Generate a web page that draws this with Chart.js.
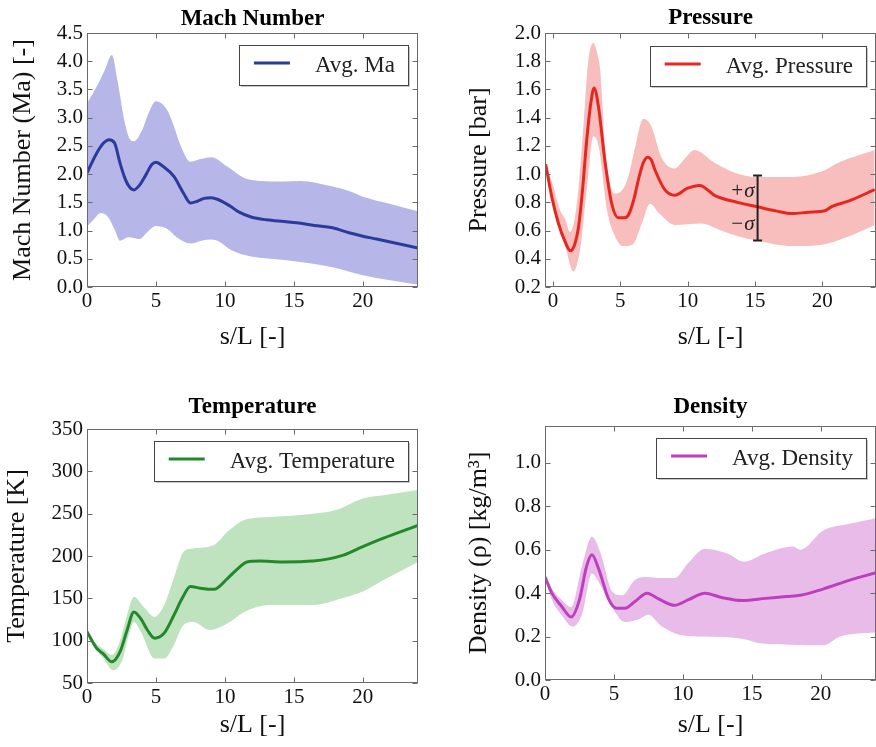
<!DOCTYPE html>
<html><head><meta charset="utf-8">
<script src="https://cdn.jsdelivr.net/npm/chart.js@4.4.1/dist/chart.umd.min.js"></script>
<style>
html,body{margin:0;padding:0;background:#fff;overflow:hidden;width:876px;height:747px;position:relative;}
canvas{position:absolute;}
</style></head><body>
<canvas id="cMach"></canvas>
<canvas id="cPres"></canvas>
<canvas id="cTemp"></canvas>
<canvas id="cDens"></canvas>
<script>
// ---------- DATA ----------
const xTicks = [0, 5, 10, 15, 20];

const machTicks = [0, 0.5, 1, 1.5, 2, 2.5, 3, 3.5, 4, 4.5];
const machMeanX = [0, 0.7, 1.2, 1.6, 2.0, 2.4, 2.7, 3.0, 3.4, 3.8, 4.3, 4.7, 5.0, 5.5, 6.3, 7.0, 7.5, 8.0, 8.5, 9.0, 9.5, 10.4, 11.0, 11.9, 13, 14.3, 15.2, 16.5, 17.8, 19, 20, 21, 22.5, 24];
const machMean  = [2.02, 2.37, 2.55, 2.61, 2.55, 2.19, 1.96, 1.80, 1.72, 1.80, 2.00, 2.17, 2.21, 2.14, 1.96, 1.66, 1.49, 1.52, 1.57, 1.58, 1.55, 1.43, 1.33, 1.24, 1.19, 1.16, 1.14, 1.09, 1.05, 0.96, 0.90, 0.85, 0.77, 0.69];
const machUpX = [0, 0.7, 1.3, 1.8, 2.2, 2.7, 3.1, 3.4, 4.0, 4.5, 5.0, 5.8, 6.3, 6.8, 7.5, 8.3, 9.0, 10.2, 11.4, 12.5, 14.3, 15.5, 17.8, 19, 20, 22, 24];
const machUp  = [3.25, 3.55, 3.85, 4.11, 3.67, 2.96, 2.62, 2.58, 2.78, 3.10, 3.29, 3.14, 2.85, 2.50, 2.22, 2.27, 2.30, 2.13, 1.93, 1.88, 1.87, 1.88, 1.78, 1.70, 1.60, 1.47, 1.34];
const machLowX = [0, 0.5, 1.0, 1.5, 2.0, 2.4, 3.0, 3.4, 3.8, 4.4, 5.0, 5.8, 6.5, 7.5, 8.3, 9.0, 9.6, 10.4, 11.9, 14.3, 15.2, 17.8, 20, 22, 24];
const machLow  = [1.07, 1.20, 1.31, 1.25, 1.02, 0.82, 0.88, 0.87, 0.85, 0.98, 1.08, 1.03, 0.88, 0.77, 0.82, 0.84, 0.80, 0.66, 0.54, 0.48, 0.45, 0.35, 0.21, 0.12, 0.04];

const presTicks = [0.2, 0.4, 0.6, 0.8, 1.0, 1.2, 1.4, 1.6, 1.8, 2.0];
const presMeanX = [-0.55, -0.1, 0.4, 0.9, 1.27, 1.6, 1.9, 2.2, 2.5, 2.8, 3.05, 3.37, 3.87, 4.36, 4.85, 5.3, 5.6, 6.0, 6.34, 6.7, 7.02, 7.3, 7.57, 8.3, 9.05, 10, 10.9, 12, 13.7, 15.1, 16.5, 17.8, 19, 20.2, 20.7, 22, 23.9];
const presMean  = [1.07, 0.84, 0.65, 0.52, 0.457, 0.50, 0.63, 0.90, 1.24, 1.50, 1.61, 1.48, 1.08, 0.79, 0.69, 0.69, 0.71, 0.82, 0.96, 1.08, 1.12, 1.10, 1.03, 0.89, 0.85, 0.90, 0.92, 0.85, 0.80, 0.77, 0.74, 0.72, 0.73, 0.74, 0.77, 0.81, 0.89];
const presUpX = [-0.55, 0, 0.5, 0.9, 1.27, 1.6, 1.9, 2.3, 2.6, 3.0, 3.3, 3.5, 3.87, 4.2, 4.6, 5.3, 5.7, 6.1, 6.7, 7.3, 8.05, 9.05, 9.8, 10.5, 12.0, 13.5, 15.1, 17.8, 20, 21.2, 23.9];
const presUp  = [1.07, 0.92, 0.75, 0.68, 0.59, 0.68, 0.91, 1.40, 1.79, 1.93, 1.85, 1.74, 1.19, 0.95, 0.86, 0.91, 1.02, 1.19, 1.39, 1.34, 1.12, 1.04, 1.11, 1.17, 1.08, 1.01, 0.98, 0.98, 1.02, 1.08, 1.17];
const presLowX = [-0.55, 0, 0.5, 0.9, 1.5, 2.0, 2.5, 3.0, 3.4, 4.0, 4.6, 5.2, 5.9, 6.6, 7.2, 7.9, 9.05, 11, 12.5, 13.7, 15.1, 17.8, 20, 22, 23.9];
const presLow  = [1.06, 0.80, 0.60, 0.49, 0.31, 0.46, 0.89, 1.27, 1.19, 0.75, 0.56, 0.49, 0.50, 0.65, 0.79, 0.72, 0.64, 0.65, 0.60, 0.56, 0.53, 0.49, 0.50, 0.56, 0.64];
const sigmaX = 15.2, sigmaMid = 0.77, sigmaLo = 0.53, sigmaHi = 0.99;

const tempTicks = [50, 100, 150, 200, 250, 300, 350];
const tempMeanX = [0, 0.7, 1.2, 1.8, 2.4, 2.9, 3.4, 3.9, 4.4, 4.9, 5.6, 6.3, 6.9, 7.5, 8.2, 9.2, 10.2, 11.0, 11.6, 12.5, 14.2, 16.4, 18.6, 20, 21.5, 24];
const tempMean  = [110.6, 91, 84, 75, 87, 112, 134, 126, 112, 103, 109, 130, 150, 164, 162, 160.6, 173.7, 186, 193, 194, 193, 194, 201, 211, 221, 236];
const tempUpX = [0, 0.7, 1.2, 1.8, 2.4, 2.9, 3.4, 4.1, 4.9, 5.6, 6.3, 7.0, 7.7, 9.2, 10.2, 11.4, 13.3, 16.4, 18, 20, 22, 24];
const tempUp  = [111, 96, 90, 83, 100, 130, 152, 140, 128, 142, 174, 205, 209, 213, 229, 242.5, 246, 250, 254, 268, 273, 278];
const tempLowX = [0, 0.7, 1.2, 1.9, 2.6, 3.0, 3.4, 3.9, 4.9, 5.6, 6.3, 7.0, 7.7, 8.9, 10.2, 11.4, 13.3, 16.4, 18.5, 20, 21.5, 24];
const tempLow  = [110, 90, 79, 65, 79, 105, 122, 110.6, 79, 79, 95, 118.5, 122, 112.6, 120.5, 134, 142, 142, 150, 158, 171.7, 193];

const densTicks = [0, 0.2, 0.4, 0.6, 0.8, 1.0];
const densMeanX = [0, 0.5, 1.2, 1.9, 2.5, 3.0, 3.4, 3.9, 4.6, 5.2, 5.8, 6.5, 7.4, 8.2, 9.4, 10.4, 11.6, 12.8, 14.3, 16, 17.5, 18.5, 20.2, 22.1, 24];
const densMean  = [0.475, 0.40, 0.34, 0.29, 0.37, 0.52, 0.577, 0.51, 0.375, 0.33, 0.33, 0.36, 0.40, 0.375, 0.344, 0.37, 0.40, 0.38, 0.366, 0.376, 0.385, 0.39, 0.42, 0.46, 0.494];
const densUpX = [0, 0.5, 1.2, 1.9, 2.7, 3.4, 4.0, 4.9, 5.6, 6.5, 7.3, 8.4, 9.4, 10.4, 11.6, 13.3, 14.4, 16, 18, 18.5, 20.2, 22.1, 24];
const densUp  = [0.48, 0.42, 0.37, 0.336, 0.53, 0.66, 0.59, 0.405, 0.39, 0.46, 0.475, 0.47, 0.47, 0.54, 0.605, 0.58, 0.545, 0.584, 0.615, 0.60, 0.69, 0.72, 0.745];
const densLowX = [0, 0.5, 1.2, 2.0, 2.7, 3.4, 3.9, 4.9, 5.8, 6.8, 7.5, 8.4, 9.9, 11.4, 14.3, 15.6, 18.5, 20.2, 21.4, 24];
const densLow  = [0.47, 0.37, 0.30, 0.245, 0.305, 0.49, 0.45, 0.33, 0.267, 0.28, 0.30, 0.25, 0.206, 0.20, 0.19, 0.169, 0.161, 0.16, 0.20, 0.22];

// ---------- RENDERING ----------
const FONT = "'Liberation Serif', 'Times New Roman', Times, serif";
const pts = (xs, ys) => xs.map((x, i) => ({x: x, y: ys[i]}));

const panelPlugin = {
  id: 'panel',
  afterDatasetsDraw(chart, args, o) {
    const {ctx, chartArea: a, scales} = chart;
    const sx = scales.x, sy = scales.y;
    ctx.save();
    if (o.sigma) {
      const px = sx.getPixelForValue(o.sigma.x);
      const pHi = sy.getPixelForValue(o.sigma.hi), pLo = sy.getPixelForValue(o.sigma.lo);
      const pMid = sy.getPixelForValue(o.sigma.mid);
      ctx.strokeStyle = '#222'; ctx.lineWidth = 2;
      ctx.beginPath();
      ctx.moveTo(px, pHi); ctx.lineTo(px, pLo);
      ctx.moveTo(px - 4.5, pHi); ctx.lineTo(px + 4.5, pHi);
      ctx.moveTo(px - 4.5, pLo); ctx.lineTo(px + 4.5, pLo);
      ctx.stroke();
      ctx.fillStyle = '#222';
      ctx.font = 'italic 21px ' + FONT;
      ctx.textAlign = 'right'; ctx.textBaseline = 'alphabetic';
      ctx.fillText('+σ', px - 3, pMid - 10);
      ctx.fillText('−σ', px - 3, pMid + 23);
    }
    ctx.strokeStyle = '#6a6a6a'; ctx.lineWidth = 1;
    const L = Math.round(a.left) + 0.5, T = Math.round(a.top) + 0.5;
    const R = Math.round(a.right) - 0.5, B = Math.round(a.bottom) - 0.5;
    ctx.strokeRect(L, T, R - L, B - T);
    ctx.beginPath();
    o.xt.forEach(v => {
      const p = Math.round(sx.getPixelForValue(v)) + 0.5;
      ctx.moveTo(p, B); ctx.lineTo(p, B - 5);
      ctx.moveTo(p, T); ctx.lineTo(p, T + 5);
    });
    o.yt.forEach(v => {
      const p = Math.round(sy.getPixelForValue(v)) + 0.5;
      ctx.moveTo(L, p); ctx.lineTo(L + 5, p);
      ctx.moveTo(R, p); ctx.lineTo(R - 5, p);
    });
    ctx.stroke();
    ctx.fillStyle = '#000';
    ctx.font = 'bold 23px ' + FONT;
    ctx.textAlign = 'center'; ctx.textBaseline = 'alphabetic';
    ctx.fillText(o.title, (a.left + a.right) / 2, o.titleY);
    ctx.font = '23px ' + FONT;
    const tw = ctx.measureText(o.label).width;
    const w = 77 + tw + 12, h = 40;
    const right = a.right - 10, top = a.top + o.legTop, left = right - w;
    ctx.fillStyle = 'rgba(0,0,0,0.22)';
    ctx.fillRect(left + 2, top + 2, w, h);
    ctx.fillStyle = '#fff';
    ctx.fillRect(left, top, w, h);
    ctx.strokeStyle = '#444'; ctx.lineWidth = 1;
    ctx.strokeRect(Math.round(left) + 0.5, Math.round(top) + 0.5, Math.round(w), h);
    ctx.strokeStyle = o.color; ctx.lineWidth = 3;
    ctx.beginPath(); ctx.moveTo(left + 15, top + 18); ctx.lineTo(left + 51, top + 18); ctx.stroke();
    ctx.fillStyle = '#222'; ctx.textAlign = 'left';
    ctx.fillText(o.label, left + 76, top + 27);
    ctx.restore();
  }
};

function makeChart(id, pos, area, c) {
  const cv = document.getElementById(id);
  cv.width = pos.w; cv.height = pos.h;
  cv.style.left = pos.x + 'px'; cv.style.top = pos.y + 'px';
  cv.style.width = pos.w + 'px'; cv.style.height = pos.h + 'px';
  new Chart(cv, {
    type: 'line',
    data: { datasets: [
      { label: c.label, data: pts(c.meanX, c.mean), borderColor: c.line, borderWidth: 3, pointRadius: 0, fill: false, cubicInterpolationMode: 'monotone' },
      { label: 'upper', data: pts(c.upX, c.up), borderColor: 'rgba(0,0,0,0)', borderWidth: 0, backgroundColor: c.band, pointRadius: 0, fill: '+1', cubicInterpolationMode: 'monotone' },
      { label: 'lower', data: pts(c.lowX, c.low), borderColor: 'rgba(0,0,0,0)', borderWidth: 0, pointRadius: 0, fill: false, cubicInterpolationMode: 'monotone' }
    ]},
    options: {
      responsive: false, animation: false, devicePixelRatio: 1,
      layout: { padding: { left: 0, top: area.t - pos.y, right: pos.x + pos.w - area.r, bottom: 0 } },
      plugins: {
        legend: { display: false }, tooltip: { enabled: false },
        panel: { title: c.title, titleY: c.titleY, label: c.label, color: c.line, legTop: c.legTop, xt: xTicks, yt: c.yTicks, sigma: c.sigma || null }
      },
      scales: {
        x: {
          type: 'linear', min: c.xmin, max: c.xmax,
          grid: { display: false, drawTicks: false }, border: { display: false },
          afterFit: s => { s.height = pos.y + pos.h - area.b; },
          afterBuildTicks: s => { s.ticks = xTicks.map(v => ({ value: v })); },
          ticks: { font: { family: FONT, size: 21 }, color: '#111', padding: 2, maxRotation: 0, autoSkip: false, callback: v => String(v) },
          title: { display: true, text: 's/L [-]', color: '#111', font: { family: FONT, size: 26, lineHeight: 1.2 }, padding: { top: 0, bottom: c.xTitlePad } }
        },
        y: {
          type: 'linear', min: c.ymin, max: c.ymax,
          grid: { display: false, drawTicks: false }, border: { display: false },
          afterFit: s => { s.width = area.l - pos.x; },
          afterBuildTicks: s => { s.ticks = c.yTicks.map(v => ({ value: v })); },
          ticks: { font: { family: FONT, size: 21 }, color: '#111', padding: 4, autoSkip: false, callback: v => v.toFixed(c.dec) },
          title: { display: true, text: c.ytitle, color: '#111', font: { family: FONT, size: 26, lineHeight: 1.2 }, padding: { top: c.yTitlePad, bottom: 0 } }
        }
      }
    },
    plugins: [panelPlugin]
  });
}

makeChart('cMach', { x: 0, y: 0, w: 438, h: 360 }, { l: 87, r: 418, t: 33, b: 287 }, {
  title: 'Mach Number', titleY: 25, label: 'Avg. Ma', line: '#2b3b9b', band: '#b6b6e8', legTop: 12,
  meanX: machMeanX, mean: machMean, upX: machUpX, up: machUp, lowX: machLowX, low: machLow,
  xmin: 0, xmax: 24, ymin: 0, ymax: 4.5, yTicks: machTicks, dec: 1,
  ytitle: 'Mach Number (Ma) [-]', yTitlePad: 8, xTitlePad: 7
});
makeChart('cPres', { x: 438, y: 0, w: 438, h: 360 }, { l: 545, r: 876, t: 33, b: 287 }, {
  title: 'Pressure', titleY: 24, label: 'Avg. Pressure', line: '#e5281f', band: '#f8bdbd', legTop: 13,
  meanX: presMeanX, mean: presMean, upX: presUpX, up: presUp, lowX: presLowX, low: presLow,
  xmin: -0.6, xmax: 24, ymin: 0.2, ymax: 2.0, yTicks: presTicks, dec: 1,
  ytitle: 'Pressure [bar]', yTitlePad: 26, xTitlePad: 7,
  sigma: { x: sigmaX, mid: sigmaMid, lo: sigmaLo, hi: sigmaHi }
});
makeChart('cTemp', { x: 0, y: 370, w: 438, h: 377 }, { l: 87, r: 418, t: 429, b: 683 }, {
  title: 'Temperature', titleY: 43, label: 'Avg. Temperature', line: '#22892a', band: '#bfe2bf', legTop: 12,
  meanX: tempMeanX, mean: tempMean, upX: tempUpX, up: tempUp, lowX: tempLowX, low: tempLow,
  xmin: 0, xmax: 24, ymin: 50, ymax: 350, yTicks: tempTicks, dec: 0,
  ytitle: 'Temperature [K]', yTitlePad: 2, xTitlePad: 6.5
});
makeChart('cDens', { x: 438, y: 370, w: 438, h: 377 }, { l: 545, r: 876, t: 426, b: 680 }, {
  title: 'Density', titleY: 43, label: 'Avg. Density', line: '#bd3fbd', band: '#e9bbe9', legTop: 12,
  meanX: densMeanX, mean: densMean, upX: densUpX, up: densUp, lowX: densLowX, low: densLow,
  xmin: 0, xmax: 24, ymin: 0, ymax: 1.17, yTicks: densTicks, dec: 1,
  ytitle: 'Density (ρ) [kg/m³]', yTitlePad: 26, xTitlePad: 6.5
});
</script>
</body></html>
